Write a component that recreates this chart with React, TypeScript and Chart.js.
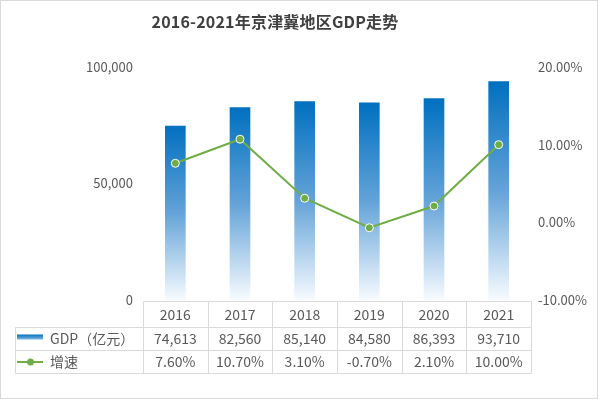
import React, { useEffect, useRef } from "react";
import { Chart, registerables } from "chart.js";

Chart.register(...registerables);

const categories = ["2016", "2017", "2018", "2019", "2020", "2021"];
const gdpValues = [74613, 82560, 85140, 84580, 86393, 93710];
const growthValues = [7.6, 10.7, 3.1, -0.7, 2.1, 10.0];
const gdpLabel = "GDP（亿元）";
const growthLabel = "增速";
const titleText = "2016-2021年京津冀地区GDP走势";

const FONT = "'Noto Sans CJK SC', 'Noto Sans', sans-serif";
const TEXT = "#595959";
const GRID = "#d9d9d9";
const BLUE = "#0070c0";
const GREEN = "#70ad47";

const fmtInt = (v: number) => v.toLocaleString("en-US");
const fmtPct = (v: number) => v.toFixed(2) + "%";

const overlay = {
  id: "overlay",
  afterDraw(chart: any) {
    const ctx = chart.ctx as CanvasRenderingContext2D;
    const { left, right, bottom } = chart.chartArea;
    const W = chart.width;
    const H = chart.height;
    ctx.save();
    // outer border
    ctx.strokeStyle = GRID;
    ctx.lineWidth = 1;
    ctx.strokeRect(0.5, 0.5, W - 1, H - 1);

    // title
    ctx.fillStyle = "#404040";
    ctx.font = `bold 16px ${FONT}`;
    (ctx as any).letterSpacing = "0.2px";
    ctx.textAlign = "center";
    ctx.textBaseline = "middle";
    ctx.fillText(titleText, 275, 22);
    (ctx as any).letterSpacing = "0px";

    // table
    const n = categories.length;
    const w = (right - left) / n;
    const r0 = Math.round(bottom) + 1.5;
    const r1 = r0 + 26;
    const r2 = r1 + 23;
    const r3 = r2 + 23;
    const tl = 15.5;
    const px = (x: number) => Math.round(x) + 0.5;
    ctx.strokeStyle = GRID;
    ctx.beginPath();
    ctx.moveTo(px(left), r0);
    ctx.lineTo(px(right), r0);
    [r1, r2, r3].forEach((r) => {
      ctx.moveTo(tl, r);
      ctx.lineTo(px(right), r);
    });
    for (let i = 0; i <= n; i++) {
      const x = px(left + i * w);
      ctx.moveTo(x, r0);
      ctx.lineTo(x, r3);
    }
    ctx.moveTo(tl, r1);
    ctx.lineTo(tl, r3);
    ctx.stroke();

    ctx.fillStyle = TEXT;
    ctx.font = `14px ${FONT}`;
    ctx.textAlign = "center";
    ctx.textBaseline = "middle";
    const xs = chart.scales.x;
    categories.forEach((c, i) => {
      const cx = xs.getPixelForValue(i);
      ctx.fillText(c, cx, (r0 + r1) / 2);
      ctx.fillText(fmtInt(gdpValues[i]), cx, (r1 + r2) / 2);
      ctx.fillText(fmtPct(growthValues[i]), cx, (r2 + r3) / 2);
    });

    // legend keys
    const g = ctx.createLinearGradient(0, r1 + 7, 0, r1 + 13);
    g.addColorStop(0, BLUE);
    g.addColorStop(1, "#9cc3e8");
    ctx.fillStyle = g;
    ctx.fillRect(17, r1 + 7, 26, 5);
    ctx.strokeStyle = GREEN;
    ctx.lineWidth = 2;
    const ly = (r2 + r3) / 2;
    ctx.beginPath();
    ctx.moveTo(17, ly);
    ctx.lineTo(43, ly);
    ctx.stroke();
    ctx.fillStyle = GREEN;
    ctx.beginPath();
    ctx.arc(30.5, ly, 3.5, 0, Math.PI * 2);
    ctx.fill();

    ctx.fillStyle = TEXT;
    ctx.textAlign = "left";
    ctx.fillText(gdpLabel, 50, (r1 + r2) / 2);
    ctx.fillText(growthLabel, 50, ly);
    ctx.restore();
  },
};

export default function App() {
  const ref = useRef<HTMLCanvasElement>(null);
  useEffect(() => {
    if (!ref.current) return;
    const chart = new Chart(ref.current, {
      type: "bar",
      data: {
        labels: categories,
        datasets: [
          {
            type: "line",
            label: growthLabel,
            data: growthValues,
            yAxisID: "y1",
            borderColor: GREEN,
            borderWidth: 2,
            pointRadius: 4,
            pointBackgroundColor: GREEN,
            pointBorderColor: "#ffffff",
            pointBorderWidth: 1,
            tension: 0,
            order: 0,
          } as any,
          {
            type: "bar",
            label: gdpLabel,
            data: gdpValues,
            yAxisID: "y",
            barThickness: 20,
            order: 1,
            backgroundColor: (c: any) => {
              const chart = c.chart;
              if (!chart.chartArea || c.raw == null) return BLUE;
              const ys = chart.scales.y;
              const top = ys.getPixelForValue(c.raw);
              const bot = ys.getPixelForValue(0);
              const g = chart.ctx.createLinearGradient(0, top, 0, bot);
              g.addColorStop(0, BLUE);
              g.addColorStop(0.5, "#64a3d8");
              g.addColorStop(1, "#f7fbff");
              return g;
            },
          } as any,
        ],
      },
      options: {
        responsive: false,
        animation: false,
        layout: { padding: { left: 0, right: 0, top: 67, bottom: 99 } },
        plugins: {
          legend: { display: false },
          tooltip: { enabled: false },
          title: { display: false },
        },
        scales: {
          x: { display: false, type: "category" },
          y: {
            position: "left",
            min: 0,
            max: 100000,
            border: { display: false },
            grid: { display: false, drawTicks: false },
            ticks: {
              stepSize: 50000,
              padding: 10,
              color: TEXT,
              font: { family: FONT, size: 13 },
              callback: (v: any) => fmtInt(Number(v)),
            },
            afterFit: (s: any) => {
              s.width = 143;
            },
          },
          y1: {
            position: "right",
            min: -10,
            max: 20,
            border: { display: false },
            grid: { display: false, drawTicks: false },
            ticks: {
              stepSize: 10,
              padding: 7,
              color: TEXT,
              font: { family: FONT, size: 13 },
              callback: (v: any) => fmtPct(Number(v)),
            },
            afterFit: (s: any) => {
              s.width = 67;
            },
          },
        },
      },
      plugins: [overlay],
    });
    return () => chart.destroy();
  }, []);
  return (
    <div style={{ position: "fixed", left: 0, top: 0, width: 598, height: 399, background: "#fff" }}>
      <canvas ref={ref} width={598} height={399} style={{ display: "block" }} />
    </div>
  );
}
